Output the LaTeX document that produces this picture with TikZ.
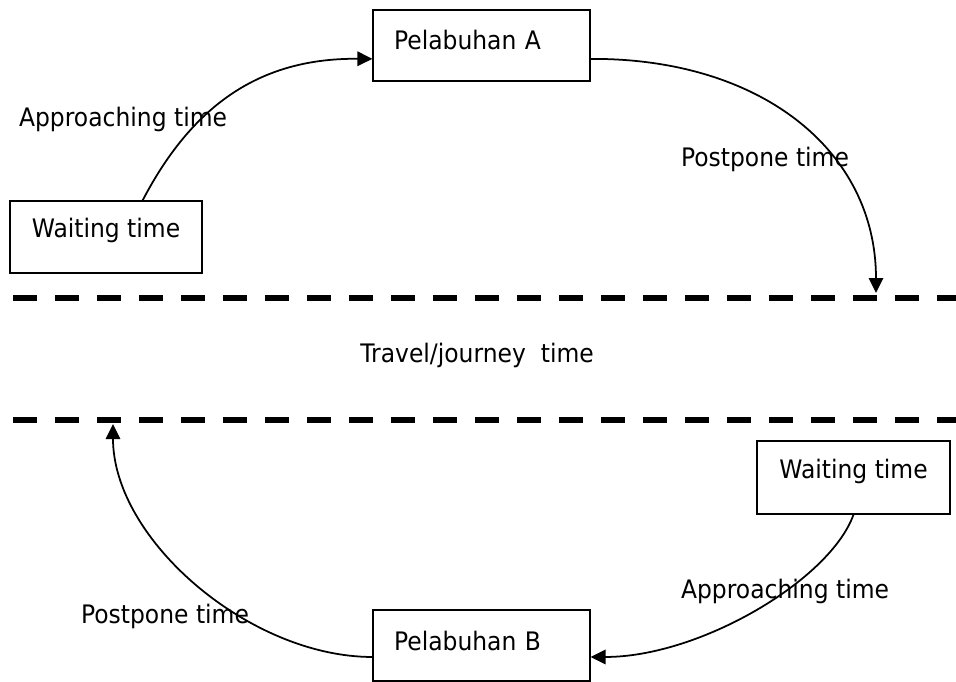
\documentclass[tikz,border=0pt]{standalone}
\usepackage{fontspec}
\setmainfont{DejaVu Sans}[FakeStretch=0.92]
\usetikzlibrary{arrows.meta}
\definecolor{ink}{RGB}{0,0,0}
\tikzset{
  >={Triangle[length=3mm,width=2.9mm]},
  box/.style={draw=ink,line width=0.75pt,fill=white,inner sep=0pt,
    text height=0.36cm,text depth=0.32cm,font=\fontsize{14.5}{17}\selectfont},
  port/.style={box,minimum height=1.42cm,text width=3.5cm,inner xsep=0.42cm,
    align=left,text depth=0.18cm},
  flow/.style={->,line width=1pt,draw=ink},
  lane/.style={draw=ink,line width=0.13cm,dash pattern=on 0.48cm off 0.36cm},
  tag/.style={anchor=base,inner sep=0pt,font=\fontsize{14.5}{17}\selectfont},
}
\begin{document}
\begin{tikzpicture}[x=0.02cm,y=-0.02cm]
  \useasboundingbox (0,0) rectangle (956,682);
  % dashed bands
  \coordinate (topL) at (13,298);  \coordinate (topR) at (956,298);
  \coordinate (botL) at (13,420);  \coordinate (botR) at (956,420);
  \draw[lane] (topL) -- (topR);
  \draw[lane] (botL) -- (botR);
  \coordinate (landA) at (876,293);
  \coordinate (landB) at (113,424);
  % boxes
  \node[port] (pelA) at (481.5,45.5) {Pelabuhan A};
  \node[port] (pelB) at (481.5,645.5) {Pelabuhan B};
  \node[box,minimum width=3.84cm,minimum height=1.44cm] (waitA) at (106,237) {Waiting time};
  \node[box,minimum width=3.86cm,minimum height=1.46cm] (waitB) at (853.5,477.5) {Waiting time};
  % arcs
  \draw[flow] (waitA.45) .. controls (195,100) and (265,58) .. (pelA.187);
  \draw[flow] (pelA.353) .. controls (760,58) and (876,150) .. (landA);
  \draw[flow] (pelB.186) .. controls (250,657) and (113,540) .. (landB);
  \draw[flow] (waitB.south) .. controls (830,580) and (700,657) .. (pelB.354);
  % labels
  \node[tag] (apA) at (123,127) {Approaching time};
  \node[tag] (ppA) at (765,167) {Postpone time};
  \node[tag] (trv) at (477,362) {Travel/journey\ \ time};
  \node[tag] (ppB) at (165,623) {Postpone time};
  \node[tag] (apB) at (785,598) {Approaching time};
\end{tikzpicture}
\end{document}
